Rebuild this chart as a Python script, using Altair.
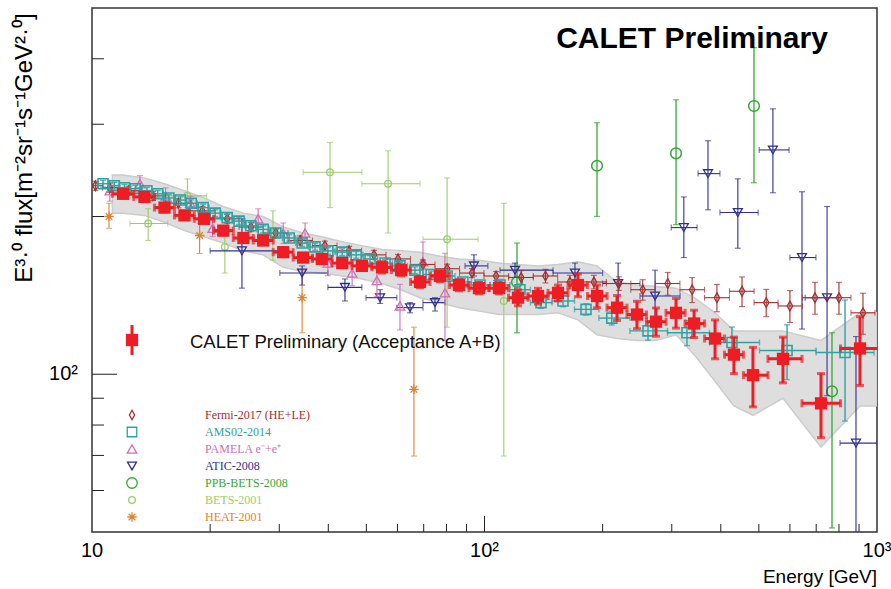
import altair as alt
import numpy as np
import pandas as pd

W, H = 785, 524

# ---------------- data ----------------
calet_E = [12.0, 13.6, 15.3, 17.2, 19.3, 21.6, 24.3, 27.3, 30.7, 34.5, 38.5, 43.4, 48.7, 54.8,
           61.3, 68.5, 77.0, 86.1, 96.8, 108.9, 121.7, 136.9, 153.9, 173, 193.5, 217.6, 244.6,
           273.5, 307.6, 342, 386.7, 432, 483, 576, 720, 905]
calet_F = [221, 218, 208, 201, 198, 188, 182, 180, 171, 167, 166, 163, 161, 160, 158, 150, 154,
           148, 146, 146, 140, 141, 143, 148, 141, 134, 130, 126, 131, 125, 117, 109, 99.6, 107,
           88, 112]
calet_err = [0.018] * 13 + [0.025] * 7 + [0.035, 0.035, 0.035, 0.05, 0.05, 0.055, 0.06, 0.062,
                                            0.065, 0.06, 0.085, 0.08, 0.13, 0.10, 0.14, 0.15]
band_hi = [240, 237, 231, 224, 217, 209, 203, 200, 191, 186, 183, 179, 176, 173, 172, 171, 168,
           166, 165, 163, 162, 161, 162, 164, 161, 150, 148, 147, 146, 140, 131, 121, 121, 121,
           116, 131]
band_lo = [203, 201, 195, 188, 183, 178, 172, 169, 160, 157, 156, 154, 152, 149, 145, 140, 137,
           134, 132, 130, 130, 130, 131, 127, 119, 117, 116, 116, 119, 109, 97, 87, 83.5, 90,
           72.6, 87]

fermi_E = [10.2, 11.1, 12.4, 14.3, 16.6, 19.1, 22.1, 25.4, 29.4, 33.9, 39.2, 45.2, 52.3, 60.2,
           69.7, 80.3, 92.9, 107, 124, 143, 165, 190, 220, 253, 293, 338, 391, 453, 522, 600,
           695, 800, 921]
fermi_F = [229, 227, 224, 219, 212, 205, 198, 191, 186, 180, 176, 172, 169, 166, 162, 159, 156,
           154, 153, 154, 150, 150, 149, 145, 149, 145, 140, 144, 137, 135, 140, 140, 131]
fermi_err = [0.02] * 18 + [0.03] * 5 + [0.045, 0.05, 0.055, 0.06, 0.065, 0.06, 0.07, 0.07,
                                       0.07, 0.09]

ams_E = [10.67, 11.4, 12.1, 12.9, 13.8, 14.7, 15.7, 16.8, 17.9, 19.2, 20.6, 22.1, 23.7, 25.4,
         27.3, 29.4, 31.8, 34.3, 37.0, 39.9, 43.4, 47.1, 51.1, 55.8, 60.9, 66.5, 73.1, 80.3,
         88.1, 97.4, 109.5, 123.1, 139.3, 158.5, 181.4, 211, 261, 328, 427, 590, 829]
ams_F = [231, 229, 227, 226, 224, 221, 217, 215, 212, 208, 203, 199, 196, 192, 189, 186, 182,
         178, 175, 172, 171, 169, 166, 163, 161, 158, 155, 154, 150, 148, 148, 145, 137, 138,
         133, 128, 121, 120, 115, 111, 110]
ams_err = [0.015] * 30 + [0.025] * 5 + [0.03, 0.04, 0.055, 0.07, 0.12, 0.26]

pam_E = [11.1, 13.25, 15.4, 17.8, 20.3, 26.5, 30.7, 34.9, 39.9, 46.0, 53.2, 60.9, 69.7, 79.3]
pam_F = [224, 231, 219, 212, 190, 198, 186, 186, 163, 156, 151, 135, 164, 143]
pam_err = [0.045, 0.036, 0.036, 0.031, 0.036, 0.045, 0.045, 0.045, 0.054, 0.054, 0.068, 0.10,
           0.09, 0.19]

atic_E = [24.1, 34.3, 44.1, 54.2, 64.6, 74.8, 94.0, 119.6, 170, 219, 272, 322, 371, 442, 543,
          644, 746, 884]
atic_Elo = [20.0, 30.1, 39.9, 49.9, 59.8, 69.7, 89.2, 109.5, 149.5, 200, 249, 299, 350, 398,
            501, 600, 656, 805]
atic_Ehi = [31.6, 39.9, 48.7, 59.8, 69.7, 79.3, 102, 149.5, 200, 249, 315, 348, 398, 498, 597,
            699, 796, 1000]
atic_F = [172, 156, 146.5, 140, 134, 137, 161, 158, 156, 149, 141, 190.5, 241.5, 203.5, 268,
          167, 140, 73.9]
atic_Flo = [146, 148, 138, 136.5, 131, 132, 154, 153, 151, 137, 128, 167, 206, 174, 222, 122,
            91, 40]
atic_Fhi = [198, 161, 152, 145, 137, 140, 169, 163, 163, 163, 158, 218, 279, 236, 321, 223,
            209, 118]

ppb_E = [121, 193.5, 307.6, 486, 768]
ppb_F = [150, 250, 264, 325, 92.8]
ppb_Flo = [120, 200, 193, 232, 50.9]
ppb_Fhi = [178, 302, 334, 420, 120]

bets_E = [13.9, 17.5, 21.8, 28.9, 40.4, 56.8, 80.3, 112]
bets_Elo = [12.5, 15.4, 21.8, 28.9, 34.5, 48.7, 69.7, 112]
bets_Ehi = [15.6, 19.6, 21.8, 28.9, 48.7, 68.5, 96.3, 112]
bets_F = [194, 219, 175, 186, 243, 231, 181, 138]
bets_Flo = [180, 198, 156, 165, 208, 186, 123, 69.8]
bets_Fhi = [207, 236, 192, 205, 277, 267, 237, 212]

heat_E = [11.05, 18.8, 34.3, 66.1]
heat_F = [200, 184, 140, 93.6]
heat_Flo = [190, 170, 120, 69.8]
heat_Fhi = [212, 194, 158, 123]

x_ticks_minor = [20, 30, 40, 50, 60, 70, 80, 90, 200, 300, 400, 500, 600, 700, 800, 900]
x_ticks_major = [100]
y_ticks_minor = [60, 70, 80, 90, 200, 300, 400]
y_ticks_major = [100]
x_label_values = [10, 100, 1000]
x_label_text = ["10", "10\u00b2", "10\u00b3"]
y_label_values = [100]
y_label_text = ["10\u00b2"]

legend_names = ["Fermi-2017 (HE+LE)", "AMS02-2014", "PAMELA e\u207b+e\u207a", "ATIC-2008",
                "PPB-BETS-2008", "BETS-2001", "HEAT-2001"]

# ---------------- styles ----------------
C_CALET = "#ee1d23"
C_FERMI = "#a52e2e"
C_AMS = "#2ea3a3"
C_PAM = "#d06fb4"
C_ATIC = "#2f2f92"
C_PPB = "#35a835"
C_BETS = "#9acd6a"
C_HEAT = "#dd8433"
DIAMOND = "M0,-1L0.55,0L0,1L-0.55,0Z"
STAR = "M-1,0L1,0M0,-1L0,1M-0.7,-0.7L0.7,0.7M-0.7,0.7L0.7,-0.7"

legend_colors = [C_FERMI, C_AMS, C_PAM, C_ATIC, C_PPB, C_BETS, C_HEAT]
legend_shapes = [DIAMOND, "square", "triangle-up", "triangle-down", "circle", "circle", STAR]
legend_sizes = [90, 90, 90, 80, 110, 45, 90]

xs = alt.Scale(type="log", domain=[10, 1000], nice=False)
ys = alt.Scale(type="log", domain=[50, 500], nice=False)


def X(f):
    return alt.X(f, type="quantitative", scale=xs, axis=None)


def Y(f):
    return alt.Y(f, type="quantitative", scale=ys, axis=None)


def bin_edges(E):
    E = np.array(E, float)
    mids = np.sqrt(E[1:] * E[:-1])
    lo = np.concatenate([[E[0] ** 2 / mids[0]], mids])
    hi = np.concatenate([mids, [E[-1] ** 2 / mids[-1]]])
    return lo, hi


def frame(E, F, Flo, Fhi, Elo, Ehi):
    return pd.DataFrame({"E": E, "F": F, "Flo": Flo, "Fhi": Fhi, "Elo": Elo, "Ehi": Ehi})


def dense(E, F, err):
    E = np.array(E, float)
    F = np.array(F, float)
    err = np.array(err, float)
    lo, hi = bin_edges(E)
    return frame(E, F, F * (1 - err), F * (1 + err), lo, hi)


def series(df, color, shape, size, sw=1.1, cap=6, filled=False):
    base = alt.Chart(df)
    layers = [
        base.mark_rule(color=color, strokeWidth=sw, clip=True).encode(
            x=X("E"), y=Y("Flo"), y2=alt.Y2("Fhi")),
        base.mark_tick(orient="horizontal", color=color, size=cap, thickness=sw, clip=True).encode(
            x=X("E"), y=Y("Flo")),
        base.mark_tick(orient="horizontal", color=color, size=cap, thickness=sw, clip=True).encode(
            x=X("E"), y=Y("Fhi")),
    ]
    hb = base.transform_filter("datum.Ehi > datum.Elo")
    layers += [
        hb.mark_rule(color=color, strokeWidth=sw, clip=True).encode(
            x=X("Elo"), x2=alt.X2("Ehi"), y=Y("F")),
        hb.mark_tick(orient="vertical", color=color, size=cap, thickness=sw, clip=True).encode(
            x=X("Elo"), y=Y("F")),
        hb.mark_tick(orient="vertical", color=color, size=cap, thickness=sw, clip=True).encode(
            x=X("Ehi"), y=Y("F")),
    ]
    if filled:
        layers.append(base.mark_point(shape=shape, size=size, filled=True, color=color,
                                      opacity=1, clip=True).encode(x=X("E"), y=Y("F")))
    else:
        layers.append(base.mark_point(shape=shape, size=size, filled=False, color=color,
                                      strokeWidth=sw + 0.2, opacity=1, clip=True).encode(
            x=X("E"), y=Y("F")))
    return layers


# ---------------- build ----------------
calet_df = dense(calet_E, calet_F, calet_err)
band_E = [calet_df["Elo"].iloc[0]] + list(calet_E) + [1000]
band_df = pd.DataFrame({"E": band_E,
                        "hi": [band_hi[0]] + band_hi + [band_hi[-1]],
                        "lo": [band_lo[0]] + band_lo + [band_lo[-1]]})

band = alt.Chart(band_df).mark_area(color="#dedede", stroke="#cccccc", strokeWidth=1.5,
                                    opacity=1, clip=True).encode(
    x=X("E"), y=Y("lo"), y2=alt.Y2("hi"))

heat_df = frame(heat_E, heat_F, heat_Flo, heat_Fhi, heat_E, heat_E)
bets_df = frame(bets_E, bets_F, bets_Flo, bets_Fhi, bets_Elo, bets_Ehi)
ppb_df = frame(ppb_E, ppb_F, ppb_Flo, ppb_Fhi, ppb_E, ppb_E)
atic_df = frame(atic_E, atic_F, atic_Flo, atic_Fhi, atic_Elo, atic_Ehi)
pF = np.array(pam_F, float)
pam_df = frame(pam_E, pF, pF * (1 - np.array(pam_err)), pF * (1 + np.array(pam_err)),
               pam_E, pam_E)
fermi_df = dense(fermi_E, fermi_F, fermi_err)
ams_df = dense(ams_E, ams_F, ams_err)

layers = [band]
layers += series(heat_df, C_HEAT, STAR, 90)
layers += series(bets_df, C_BETS, "circle", 45)
layers += series(ppb_df, C_PPB, "circle", 115, sw=1.3)
layers += series(atic_df, C_ATIC, "triangle-down", 80)
layers += series(pam_df, C_PAM, "triangle-up", 90)
layers += series(fermi_df, C_FERMI, DIAMOND, 95)
layers += series(ams_df, C_AMS, "square", 100, sw=1.4)
layers += series(calet_df, C_CALET, "square", 150, sw=3, cap=8, filled=True)

# axis ticks (inside, ROOT style)
xt = pd.DataFrame({"v": x_ticks_minor})
xT = pd.DataFrame({"v": x_ticks_major})
yt = pd.DataFrame({"v": y_ticks_minor})
yT = pd.DataFrame({"v": y_ticks_major})
tk = "#222222"
layers += [
    alt.Chart(xt).mark_rule(color=tk, strokeWidth=1).encode(
        x=X("v"), y=alt.value(H), y2=alt.value(H - 8)),
    alt.Chart(xT).mark_rule(color=tk, strokeWidth=1).encode(
        x=X("v"), y=alt.value(H), y2=alt.value(H - 16)),
    alt.Chart(yt).mark_rule(color=tk, strokeWidth=1).encode(
        y=Y("v"), x=alt.value(0), x2=alt.value(12)),
    alt.Chart(yT).mark_rule(color=tk, strokeWidth=1).encode(
        y=Y("v"), x=alt.value(0), x2=alt.value(25)),
]

# tick labels and axis titles as text
xl = pd.DataFrame({"v": x_label_values, "t": x_label_text})
yl = pd.DataFrame({"v": y_label_values, "t": y_label_text})
layers += [
    alt.Chart(xl).mark_text(align="center", baseline="middle", font="Liberation Sans",
                            fontSize=20, color="#000").encode(
        x=X("v"), y=alt.value(H + 19), text="t:N"),
    alt.Chart(yl).mark_text(align="right", baseline="middle", font="Liberation Sans",
                            fontSize=20, color="#000").encode(
        y=Y("v"), x=alt.value(-14), text="t:N"),
    alt.Chart(pd.DataFrame({"t": ["Energy [GeV]"]})).mark_text(
        align="right", baseline="middle", font="Liberation Sans", fontSize=19,
        color="#000").encode(x=alt.value(W), y=alt.value(H + 45), text="t:N"),
    alt.Chart(pd.DataFrame({"t": ["E\u00b3\u00b7\u2070 flux[m\u207b\u00b2sr\u207b\u00b9s\u207b\u00b9GeV\u00b2\u00b7\u2070]"]})).mark_text(
        align="center", baseline="middle", font="Liberation Sans", fontSize=24,
        angle=270, color="#000").encode(x=alt.value(-67), y=alt.value(140), text="t:N"),
]

# legends
leg_df = pd.DataFrame({
    "name": legend_names,
    "col": legend_colors,
    "shape": legend_shapes,
    "sz": legend_sizes,
    "ly": [407 + 17 * i for i in range(len(legend_names))],
})
layers += [
    alt.Chart(leg_df).mark_point(filled=False, strokeWidth=1.3, opacity=1).encode(
        x=alt.value(40), y=alt.Y("ly:Q", scale=None, axis=None),
        shape=alt.Shape("shape:N", scale=None), size=alt.Size("sz:Q", scale=None),
        color=alt.Color("col:N", scale=None)),
    alt.Chart(leg_df).mark_text(align="left", baseline="middle", font="Liberation Serif",
                                fontSize=12).encode(
        x=alt.value(113), y=alt.Y("ly:Q", scale=None, axis=None), text="name:N",
        color=alt.Color("col:N", scale=None)),
]

one = pd.DataFrame({"t": ["CALET Preliminary (Acceptance A+B)"]})
layers += [
    alt.Chart(one).mark_rule(color=C_CALET, strokeWidth=3).encode(
        x=alt.value(40), y=alt.value(317), y2=alt.value(347)),
    alt.Chart(one).mark_point(shape="square", size=150, filled=True, color=C_CALET,
                              opacity=1).encode(x=alt.value(40), y=alt.value(332)),
    alt.Chart(one).mark_text(align="left", baseline="middle", font="Liberation Sans",
                             fontSize=18.5, color="#111").encode(
        x=alt.value(98), y=alt.value(334), text="t:N"),
    alt.Chart(pd.DataFrame({"t": ["CALET Preliminary"]})).mark_text(
        align="center", baseline="middle", font="Liberation Sans", fontSize=30,
        fontWeight="bold", color="#000").encode(
        x=alt.value(600), y=alt.value(31), text="t:N"),
]

chart = alt.layer(*layers).properties(
    width=W, height=H,
    autosize=alt.AutoSizeParams(type="none"),
    padding={"left": 92, "top": 8, "right": 14, "bottom": 57},
    background="white",
).configure_view(stroke="#333333", strokeWidth=1.5)

chart.save("out.html", embed_options={"renderer": "svg", "actions": False})
